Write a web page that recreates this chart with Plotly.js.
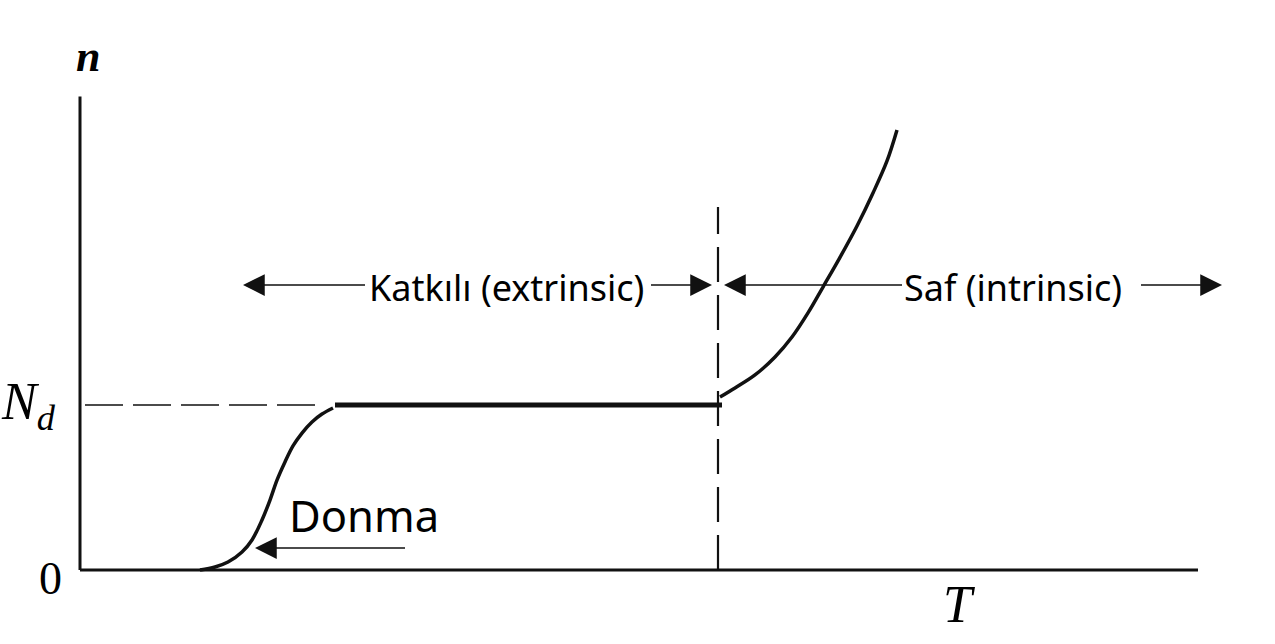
<!DOCTYPE html>
<html>
<head>
<meta charset="utf-8">
<script src="https://cdn.plot.ly/plotly-3.0.1.min.js"></script>
<style>html,body{margin:0;padding:0;background:#fff;}#chart{width:1275px;height:644px;}</style>
</head>
<body>
<div id="chart"></div>
<script>
// Axis frame (T in arbitrary units, n in units of N_d)
const axisT = [0, 11.18];
const axisN = [0, 2.87];
const Nd = 1.0;

// Freeze-out region (Donma)
const T_freeze = [1.20, 1.35, 1.48, 1.62, 1.72, 1.82, 1.90, 1.97, 2.05, 2.13, 2.22, 2.32, 2.42, 2.53];
const n_freeze = [0, 0.018, 0.048, 0.109, 0.182, 0.303, 0.424, 0.545, 0.655, 0.752, 0.830, 0.897, 0.945, 0.982];

// Extrinsic plateau (Katkılı)
const T_extr = [2.55, 6.42];
const n_extr = [1.0, 1.0];

// Intrinsic region (Saf)
const T_intr = [6.40, 6.55, 6.75, 6.95, 7.12, 7.28, 7.43, 7.60, 7.77, 7.93, 8.07, 8.17];
const n_intr = [1.048, 1.103, 1.182, 1.291, 1.412, 1.558, 1.715, 1.895, 2.085, 2.285, 2.479, 2.667];

// Guide lines
const T_ndGuide = [0.05, 2.45];
const T_transition = 6.38;
const n_transitionTop = 2.2;

// Region arrows: [headT, tailT, n]
const arrowLevel = 1.727;
const regionArrows = [
  [1.63, 2.88, arrowLevel],
  [6.32, 5.68, arrowLevel],
  [6.44, 8.25, arrowLevel],
  [11.42, 10.58, arrowLevel],
  [1.75, 3.28, 0.133]
];

// Labels
const labelExtr = 'Katkılı (extrinsic)';
const labelIntr = 'Saf (intrinsic)';
const labelFreeze = 'Donma';

const lineCol = '#111';
const traces = [
  {x: [axisT[0], axisT[0]], y: [axisN[0], axisN[1]], mode: 'lines', line: {color: lineCol, width: 3}},
  {x: axisT, y: [0, 0], mode: 'lines', line: {color: lineCol, width: 3}},
  {x: T_ndGuide, y: [Nd, Nd], mode: 'lines', line: {color: lineCol, width: 1.5, dash: '38px,10px'}},
  {x: [T_transition, T_transition], y: [0, n_transitionTop], mode: 'lines', line: {color: lineCol, width: 2.2, dash: '35px,13px'}},
  {x: T_freeze, y: n_freeze, mode: 'lines', line: {color: lineCol, width: 3.5, shape: 'spline', smoothing: 1, simplify: false}},
  {x: T_extr, y: n_extr, mode: 'lines', line: {color: lineCol, width: 5}},
  {x: T_intr, y: n_intr, mode: 'lines', line: {color: lineCol, width: 3.5, shape: 'spline', smoothing: 1, simplify: false}}
];

const annotations = regionArrows.map(a => ({
  x: a[0], y: a[2], ax: a[1], ay: a[2], xref: 'x', yref: 'y', axref: 'x', ayref: 'y',
  text: ' ', showarrow: true, arrowhead: 2, arrowsize: 2.9, arrowwidth: 1.5, arrowcolor: lineCol
}));

const sans = 'Noto Sans, Open Sans, sans-serif';
const serif = 'Liberation Serif, DejaVu Serif, serif';
annotations.push(
  {x: 4.265, y: 1.715, xref: 'x', yref: 'y', text: labelExtr, showarrow: false, font: {family: sans, size: 36, color: '#000'}},
  {x: 9.33, y: 1.715, xref: 'x', yref: 'y', text: labelIntr, showarrow: false, font: {family: sans, size: 36, color: '#000'}},
  {x: 2.84, y: 0.333, xref: 'x', yref: 'y', text: labelFreeze, showarrow: false, font: {family: sans, size: 43.5, color: '#000'}},
  {x: 0.08, y: 3.11, xref: 'x', yref: 'y', text: '<b><i>n</i></b>', showarrow: false, font: {family: serif, size: 44, color: '#000'}},
  {x: -0.52, y: 1.0, xref: 'x', yref: 'y', text: '<i>N</i><sub><i>d</i></sub>', showarrow: false, font: {family: serif, size: 52, color: '#000'}},
  {x: -0.3, y: -0.05, xref: 'x', yref: 'y', text: '0', showarrow: false, font: {family: serif, size: 46, color: '#000'}},
  {x: 8.79, y: -0.21, xref: 'x', yref: 'y', text: '<i>T</i>', showarrow: false, font: {family: serif, size: 52, color: '#000'}}
);

const layout = {
  width: 1275, height: 644,
  margin: {l: 0, r: 0, t: 0, b: 0},
  paper_bgcolor: '#fff', plot_bgcolor: '#fff',
  showlegend: false,
  xaxis: {range: [-0.8, 11.95], visible: false, fixedrange: true},
  yaxis: {range: [-0.4485, 3.4545], visible: false, fixedrange: true},
  annotations: annotations
};

Plotly.newPlot('chart', traces, layout, {displayModeBar: false, staticPlot: true});
</script>
</body>
</html>
